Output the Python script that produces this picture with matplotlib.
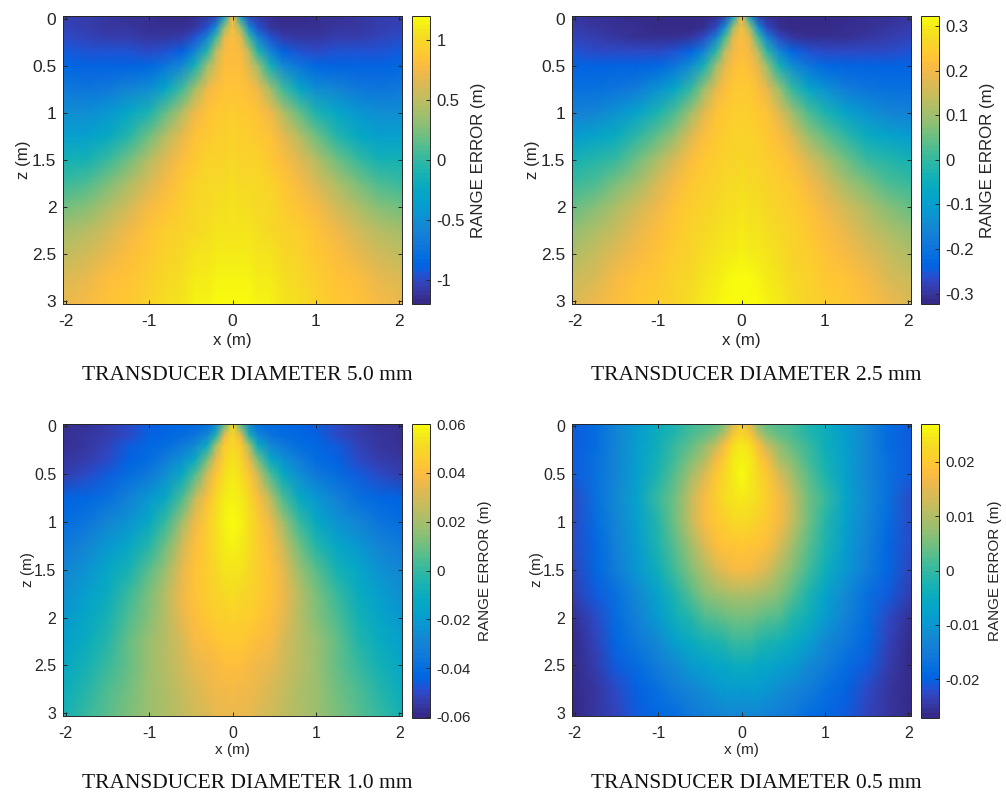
import matplotlib
matplotlib.use('Agg')
import matplotlib.pyplot as plt
from matplotlib.colors import ListedColormap
import numpy as np

# MATLAB parula, 64 levels
parula = ListedColormap([
    [0.2081,0.1663,0.5292],[0.2116,0.1898,0.5777],[0.2123,0.2138,0.6270],[0.2081,0.2386,0.6771],
    [0.1959,0.2645,0.7279],[0.1707,0.2919,0.7792],[0.1253,0.3242,0.8303],[0.0591,0.3598,0.8683],
    [0.0117,0.3875,0.8820],[0.0060,0.4086,0.8828],[0.0165,0.4266,0.8786],[0.0329,0.4430,0.8720],
    [0.0498,0.4586,0.8641],[0.0629,0.4737,0.8554],[0.0723,0.4887,0.8467],[0.0779,0.5040,0.8384],
    [0.0793,0.5200,0.8312],[0.0749,0.5375,0.8263],[0.0641,0.5570,0.8240],[0.0488,0.5772,0.8228],
    [0.0343,0.5966,0.8199],[0.0265,0.6137,0.8135],[0.0239,0.6287,0.8038],[0.0231,0.6418,0.7913],
    [0.0228,0.6535,0.7768],[0.0267,0.6642,0.7607],[0.0384,0.6743,0.7436],[0.0590,0.6838,0.7254],
    [0.0843,0.6928,0.7062],[0.1133,0.7015,0.6859],[0.1453,0.7098,0.6646],[0.1801,0.7177,0.6424],
    [0.2178,0.7250,0.6193],[0.2586,0.7317,0.5954],[0.3022,0.7376,0.5712],[0.3482,0.7424,0.5473],
    [0.3953,0.7459,0.5244],[0.4420,0.7481,0.5033],[0.4871,0.7491,0.4840],[0.5300,0.7491,0.4661],
    [0.5709,0.7485,0.4494],[0.6099,0.7473,0.4337],[0.6473,0.7456,0.4188],[0.6834,0.7435,0.4044],
    [0.7184,0.7411,0.3905],[0.7525,0.7384,0.3768],[0.7858,0.7356,0.3633],[0.8185,0.7327,0.3498],
    [0.8507,0.7299,0.3360],[0.8824,0.7274,0.3217],[0.9139,0.7258,0.3063],[0.9450,0.7261,0.2886],
    [0.9739,0.7314,0.2666],[0.9938,0.7455,0.2403],[0.9990,0.7653,0.2164],[0.9955,0.7861,0.1967],
    [0.9880,0.8066,0.1794],[0.9789,0.8271,0.1633],[0.9697,0.8481,0.1475],[0.9626,0.8705,0.1309],
    [0.9589,0.8949,0.1132],[0.9598,0.9218,0.0948],[0.9661,0.9514,0.0755],[0.9763,0.9831,0.0538]])

# sample positions, the maps are mirrored about x = 0 so only x >= 0 is listed
x_half = [0, 0.1, 0.2, 0.3, 0.45, 0.6, 0.8, 1.0, 1.25, 1.5, 1.75, 2.03]
z_rows = [-0.03, 0.1, 0.2, 0.35, 0.5, 0.75, 1.0, 1.25, 1.5, 1.75, 2.0, 2.25, 2.5, 2.75, 3.03]

err_5mm = [
    [0.80, -0.40, -1.02, -1.12, -1.16, -1.18, -1.18, -1.16, -1.14, -1.11, -1.08, -1.05],
    [0.80, 0.30, -0.50, -0.97, -1.12, -1.14, -1.14, -1.13, -1.12, -1.09, -1.06, -1.03],
    [0.80, 0.65, 0.00, -0.60, -0.97, -1.07, -1.09, -1.09, -1.07, -1.05, -1.02, -0.99],
    [0.80, 0.75, 0.45, -0.05, -0.60, -0.87, -0.96, -0.99, -0.97, -0.96, -0.94, -0.91],
    [0.82, 0.80, 0.62, 0.35, -0.15, -0.55, -0.75, -0.85, -0.88, -0.88, -0.87, -0.84],
    [0.85, 0.85, 0.82, 0.72, 0.40, 0.05, -0.30, -0.50, -0.60, -0.70, -0.72, -0.70],
    [0.90, 0.88, 0.87, 0.85, 0.72, 0.45, 0.15, -0.10, -0.30, -0.45, -0.50, -0.50],
    [0.94, 0.93, 0.91, 0.89, 0.85, 0.70, 0.45, 0.20, -0.05, -0.25, -0.35, -0.35],
    [0.98, 0.97, 0.96, 0.94, 0.89, 0.82, 0.65, 0.45, 0.20, 0.00, -0.12, -0.15],
    [1.02, 1.01, 1.00, 0.98, 0.94, 0.88, 0.78, 0.62, 0.42, 0.25, 0.10, 0.03],
    [1.05, 1.04, 1.03, 1.01, 0.98, 0.93, 0.85, 0.75, 0.58, 0.42, 0.28, 0.20],
    [1.08, 1.07, 1.06, 1.04, 1.01, 0.96, 0.90, 0.83, 0.72, 0.58, 0.45, 0.38],
    [1.12, 1.11, 1.09, 1.07, 1.05, 1.00, 0.94, 0.88, 0.80, 0.70, 0.58, 0.50],
    [1.16, 1.15, 1.13, 1.11, 1.09, 1.04, 0.98, 0.92, 0.85, 0.80, 0.70, 0.62],
    [1.20, 1.19, 1.18, 1.16, 1.13, 1.08, 1.02, 0.96, 0.89, 0.84, 0.78, 0.70],
]
err_2p5mm = [
    [0.220, -0.100, -0.285, -0.312, -0.318, -0.318, -0.318, -0.318, -0.315, -0.312, -0.306, -0.298],
    [0.220, 0.100, -0.130, -0.265, -0.305, -0.313, -0.313, -0.313, -0.312, -0.306, -0.298, -0.290],
    [0.220, 0.180, 0.020, -0.160, -0.265, -0.293, -0.303, -0.303, -0.303, -0.296, -0.288, -0.280],
    [0.220, 0.200, 0.130, -0.010, -0.160, -0.230, -0.260, -0.272, -0.272, -0.272, -0.265, -0.256],
    [0.230, 0.220, 0.180, 0.100, -0.040, -0.140, -0.200, -0.230, -0.240, -0.240, -0.240, -0.233],
    [0.240, 0.235, 0.220, 0.190, 0.100, 0.000, -0.080, -0.130, -0.180, -0.200, -0.210, -0.210],
    [0.250, 0.245, 0.240, 0.230, 0.180, 0.110, 0.030, -0.030, -0.090, -0.130, -0.160, -0.170],
    [0.258, 0.254, 0.248, 0.240, 0.220, 0.180, 0.100, 0.050, -0.010, -0.060, -0.090, -0.110],
    [0.265, 0.262, 0.258, 0.252, 0.240, 0.220, 0.170, 0.120, 0.060, 0.010, -0.020, -0.040],
    [0.275, 0.272, 0.268, 0.262, 0.252, 0.235, 0.210, 0.170, 0.110, 0.070, 0.030, 0.010],
    [0.285, 0.282, 0.276, 0.270, 0.260, 0.247, 0.230, 0.200, 0.160, 0.120, 0.080, 0.050],
    [0.295, 0.292, 0.285, 0.278, 0.267, 0.254, 0.238, 0.220, 0.190, 0.150, 0.120, 0.090],
    [0.305, 0.302, 0.296, 0.287, 0.275, 0.262, 0.246, 0.230, 0.210, 0.180, 0.150, 0.120],
    [0.316, 0.313, 0.307, 0.297, 0.283, 0.270, 0.254, 0.240, 0.225, 0.205, 0.170, 0.150],
    [0.323, 0.322, 0.318, 0.310, 0.295, 0.277, 0.260, 0.247, 0.235, 0.220, 0.195, 0.170],
]
err_1mm = [
    [0.048, 0.005, -0.030, -0.040, -0.042, -0.043, -0.045, -0.047, -0.050, -0.054, -0.057, -0.058],
    [0.050, 0.035, -0.005, -0.028, -0.037, -0.040, -0.043, -0.045, -0.049, -0.053, -0.056, -0.058],
    [0.050, 0.045, 0.020, -0.010, -0.028, -0.035, -0.040, -0.043, -0.047, -0.052, -0.055, -0.057],
    [0.053, 0.048, 0.035, 0.012, -0.012, -0.024, -0.033, -0.040, -0.044, -0.050, -0.054, -0.056],
    [0.056, 0.052, 0.043, 0.030, 0.005, -0.012, -0.025, -0.034, -0.040, -0.046, -0.050, -0.053],
    [0.058, 0.056, 0.050, 0.041, 0.025, 0.005, -0.012, -0.022, -0.032, -0.038, -0.042, -0.045],
    [0.059, 0.057, 0.052, 0.046, 0.036, 0.020, 0.000, -0.012, -0.023, -0.030, -0.036, -0.040],
    [0.057, 0.055, 0.051, 0.047, 0.040, 0.029, 0.010, -0.002, -0.014, -0.022, -0.030, -0.035],
    [0.054, 0.053, 0.050, 0.047, 0.042, 0.034, 0.018, 0.006, -0.006, -0.015, -0.024, -0.030],
    [0.051, 0.050, 0.048, 0.046, 0.042, 0.036, 0.023, 0.012, 0.000, -0.010, -0.018, -0.026],
    [0.048, 0.047, 0.046, 0.044, 0.041, 0.034, 0.024, 0.015, 0.004, -0.006, -0.014, -0.022],
    [0.045, 0.044, 0.043, 0.041, 0.038, 0.032, 0.024, 0.017, 0.008, -0.002, -0.011, -0.018],
    [0.041, 0.040, 0.039, 0.037, 0.034, 0.029, 0.023, 0.017, 0.009, 0.001, -0.007, -0.014],
    [0.038, 0.037, 0.036, 0.034, 0.031, 0.027, 0.022, 0.017, 0.010, 0.004, -0.003, -0.010],
    [0.035, 0.034, 0.034, 0.032, 0.029, 0.026, 0.022, 0.018, 0.012, 0.007, 0.001, -0.006],
]
err_0p5mm = [
    [0.021, 0.014, 0.006, 0.003, 0.002, 0.001, -0.002, -0.005, -0.009, -0.013, -0.018, -0.021],
    [0.022, 0.020, 0.012, 0.007, 0.004, 0.002, -0.001, -0.004, -0.009, -0.013, -0.018, -0.021],
    [0.025, 0.023, 0.018, 0.012, 0.007, 0.004, 0.000, -0.004, -0.008, -0.013, -0.018, -0.021],
    [0.026, 0.025, 0.021, 0.017, 0.010, 0.006, 0.001, -0.003, -0.008, -0.013, -0.017, -0.021],
    [0.027, 0.025, 0.022, 0.020, 0.014, 0.009, 0.003, -0.002, -0.008, -0.013, -0.017, -0.021],
    [0.025, 0.024, 0.023, 0.021, 0.017, 0.012, 0.005, 0.000, -0.007, -0.012, -0.017, -0.022],
    [0.022, 0.022, 0.021, 0.020, 0.017, 0.012, 0.005, -0.001, -0.008, -0.013, -0.018, -0.022],
    [0.020, 0.019, 0.019, 0.018, 0.014, 0.009, 0.003, -0.002, -0.009, -0.014, -0.019, -0.022],
    [0.017, 0.017, 0.016, 0.014, 0.010, 0.006, 0.001, -0.004, -0.010, -0.015, -0.019, -0.023],
    [0.010, 0.010, 0.009, 0.008, 0.006, 0.003, -0.002, -0.007, -0.012, -0.017, -0.021, -0.024],
    [0.005, 0.005, 0.004, 0.003, 0.002, -0.001, -0.004, -0.009, -0.014, -0.018, -0.022, -0.026],
    [0.000, 0.000, -0.001, -0.002, -0.003, -0.005, -0.008, -0.012, -0.016, -0.019, -0.023, -0.027],
    [-0.005, -0.005, -0.006, -0.006, -0.008, -0.009, -0.012, -0.015, -0.018, -0.021, -0.024, -0.027],
    [-0.009, -0.009, -0.009, -0.010, -0.011, -0.013, -0.015, -0.017, -0.020, -0.022, -0.025, -0.027],
    [-0.013, -0.013, -0.013, -0.014, -0.015, -0.016, -0.018, -0.019, -0.021, -0.023, -0.025, -0.027],
]

captions = ['TRANSDUCER DIAMETER 5.0 mm', 'TRANSDUCER DIAMETER 2.5 mm',
            'TRANSDUCER DIAMETER 1.0 mm', 'TRANSDUCER DIAMETER 0.5 mm']
color_limits = [1.2, 0.323, 0.0603, 0.027]
cbar_ticks = [[-1, -0.5, 0, 0.5, 1],
              [-0.3, -0.2, -0.1, 0, 0.1, 0.2, 0.3],
              [-0.06, -0.04, -0.02, 0, 0.02, 0.04, 0.06],
              [-0.02, -0.01, 0, 0.01, 0.02]]
cbar_labels = [['-1', '-0.5', '0', '0.5', '1'],
               ['-0.3', '-0.2', '-0.1', '0', '0.1', '0.2', '0.3'],
               ['-0.06', '-0.04', '-0.02', '0', '0.02', '0.04', '0.06'],
               ['-0.02', '-0.01', '0', '0.01', '0.02']]
x_ticks = [-2, -1, 0, 1, 2]
z_ticks = [0, 0.5, 1, 1.5, 2, 2.5, 3]
z_labels = ['0', '0.5', '1', '1.5', '2', '2.5', '3']
fields = [err_5mm, err_2p5mm, err_1mm, err_0p5mm]

W, H = 1006, 794
plt.rcParams['font.family'] = ['Liberation Sans', 'DejaVu Sans']
fig = plt.figure(figsize=(W / 100, H / 100), dpi=100)

# pixel boxes: left, top, right, bottom
ax_boxes = [(63.3, 15.7, 401.7, 304), (572.3, 15.7, 910.7, 304),
            (63.3, 423.5, 401.7, 716), (572.3, 423.5, 911, 716)]
cb_boxes = [(412.3, 15.7, 430.3, 304), (921.3, 15.7, 939.3, 304),
            (411.8, 423.5, 430, 717.5), (921.3, 423.5, 939, 717.5)]
caption_pos = [(247, 375), (756, 375), (247, 783), (756, 783)]
tick_sizes = [12.5, 12.5, 11.5, 11.5]
cbar_sizes = [12, 12, 10.8, 10.8]
label_sizes = [12.2, 12.2, 11, 11]
xlabel_pads = [3, 3, 1.5, 1.5]
zlabel_pads = [0.5, 0.5, -0.5, -0.5]
cbar_label_pads = [4.5, 4.5, 5, 6]
dark = '#262626'


def px_axes(box):
    l, t, r, b = box
    return fig.add_axes([l / W, 1 - b / H, (r - l) / W, (b - t) / H])


x_nodes = np.array([-v for v in x_half[:0:-1]] + x_half)
for i in range(4):
    half = np.array(fields[i])
    full = np.hstack([half[:, :0:-1], half])
    ax = px_axes(ax_boxes[i])
    lim = color_limits[i]
    mesh = ax.pcolormesh(x_nodes, z_rows, full, shading='gouraud', cmap=parula, vmin=-lim, vmax=lim)
    ax.set_xlim(-2.03, 2.03)
    ax.set_ylim(3.03, -0.03)
    ax.set_xticks(x_ticks)
    ax.set_xticklabels([str(v) for v in x_ticks])
    ax.set_yticks(z_ticks)
    ax.set_yticklabels(z_labels)
    ax.tick_params(direction='in', length=3, width=0.7, color=dark, labelcolor=dark,
                   top=True, right=True, labelsize=tick_sizes[i])
    ax.tick_params(axis='x', pad=7)
    ax.tick_params(axis='y', pad=5)
    ax.set_xlabel('x (m)', fontsize=label_sizes[i], color=dark, labelpad=xlabel_pads[i])
    ax.set_ylabel('z (m)', fontsize=label_sizes[i], color=dark, labelpad=zlabel_pads[i])
    for s in ax.spines.values():
        s.set_linewidth(0.7)
        s.set_color(dark)

    cax = px_axes(cb_boxes[i])
    cb = fig.colorbar(mesh, cax=cax, ticks=cbar_ticks[i])
    cb.ax.set_yticklabels(cbar_labels[i])
    cb.ax.tick_params(direction='in', length=3, width=0.7, color=dark, labelcolor=dark,
                      labelsize=cbar_sizes[i], pad=4.5)
    cb.outline.set_linewidth(0.7)
    cb.outline.set_edgecolor(dark)
    cb.set_label('RANGE ERROR (m)', fontsize=label_sizes[i], color=dark, labelpad=cbar_label_pads[i])

    cx, cy = caption_pos[i]
    fig.text(cx / W, 1 - cy / H, captions[i], ha='center', va='center',
             family='Liberation Serif', fontsize=15.5, color='#111111')

fig.savefig('out.png', dpi=100)
